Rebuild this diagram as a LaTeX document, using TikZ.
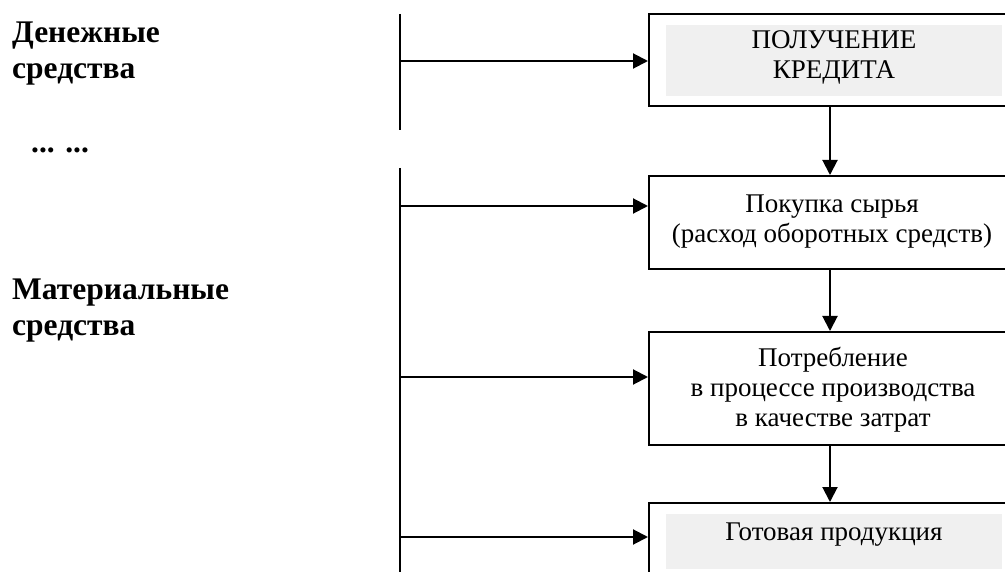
\documentclass[tikz,border=0pt]{standalone}
\usepackage{fontspec}
\setmainfont{Liberation Serif}
\usetikzlibrary{arrows.meta}
\definecolor{lightfill}{RGB}{240,240,240}
\begin{document}
\begin{tikzpicture}[x=1pt,y=-1pt,
  box/.style={draw=black,line width=2pt,minimum width=368pt,inner sep=0pt},
  btxt/.style={align=center,inner sep=0pt,font=\fontsize{27}{30}\selectfont},
  side/.style={anchor=north west,align=left,inner sep=0pt,font=\fontsize{31.5}{36}\selectfont\bfseries},
  arr/.style={line width=2pt,-{Triangle[length=15pt,width=15pt]}},
  bar/.style={line width=1.6pt}]
\useasboundingbox (0,0) rectangle (1005,572);
\clip (0,0) rectangle (1005,572);
% boxes
\node[box,minimum height=92pt] (b1) at (833,60) {};
\node[box,minimum height=93pt] (b2) at (833,222.5) {};
\node[box,minimum height=113pt] (b3) at (833,388.5) {};
\node[box,minimum height=100pt] (b4) at (833,553) {};
\fill[lightfill] (666,25) rectangle (1002,96);
\fill[lightfill] (666,514) rectangle (1002,569);
% box texts
\node[btxt] (t1) at (834,57) {ПОЛУЧЕНИЕ\\КРЕДИТА};
\node[btxt] (t2) at (832,222) {Покупка сырья\\(расход оборотных средств)};
\node[btxt] (t3) at (833,390) {Потребление\\в процессе производства\\в качестве затрат};
\node[btxt] (t4) at (834,535) {Готовая продукция};
% side labels
\node[side] (s1) at (12,22) {Денежные\\средства};
\node[anchor=base west,inner sep=0pt,font=\fontsize{31.5}{36}\selectfont\bfseries] (s2) at (31,153) {... ...};
\node[side] (s3) at (12,279) {Материальные\\средства};
% vertical bars
\coordinate (v1a) at (400,14);
\coordinate (v1b) at (400,130);
\coordinate (v2a) at (400,168);
\coordinate (v2b) at (400,575);
\draw[bar] (v1a) -- (v1b);
\draw[bar] (v2a) -- (v2b);
% horizontal arrows
\coordinate (h1) at (400,61);
\coordinate (h2) at (400,206);
\coordinate (h3) at (400,377);
\coordinate (h4) at (400,537);
\draw[arr] (h1) -- (h1 -| b1.west);
\draw[arr] (h2) -- (h2 -| b2.west);
\draw[arr] (h3) -- (h3 -| b3.west);
\draw[arr] (h4) -- (h4 -| b4.west);
% vertical arrows
\draw[arr] ([xshift=-3pt]b1.south) -- ([xshift=-3pt]b2.north);
\draw[arr] ([xshift=-3pt]b2.south) -- ([xshift=-3pt]b3.north);
\draw[arr] ([xshift=-3pt]b3.south) -- ([xshift=-3pt]b4.north);
\end{tikzpicture}
\end{document}
